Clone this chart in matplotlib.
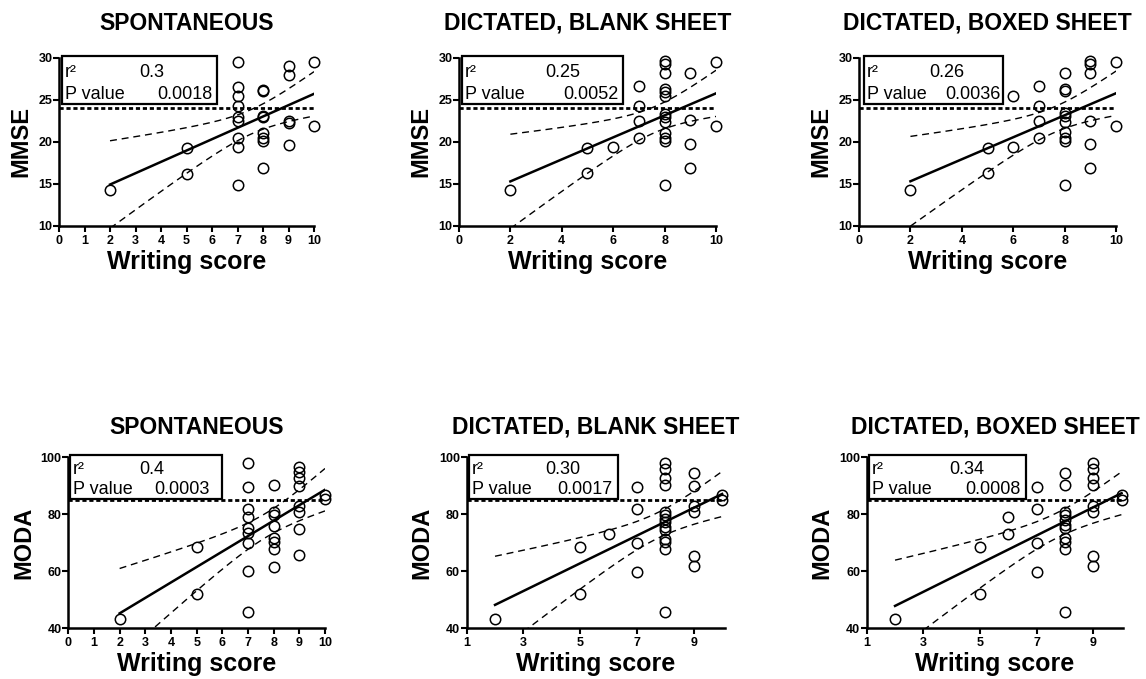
import numpy as np
import matplotlib
matplotlib.use("Agg")
import matplotlib.pyplot as plt
from matplotlib.patches import Rectangle

plt.rcParams['font.family'] = ['Liberation Sans', 'DejaVu Sans']

# ---- data ----
titles = ["SPONTANEOUS", "DICTATED, BLANK SHEET", "DICTATED, BOXED SHEET"]
r2_text = ["0.3", "0.25", "0.26", "0.4", "0.30", "0.34"]
p_text = ["0.0018", "0.0052", "0.0036", "0.0003", "0.0017", "0.0008"]
mmse_cutoff = 24
moda_cutoff = 85

# MMSE vs writing score
spont_mmse_x = [2, 5, 5, 7, 7, 7, 7, 7, 7, 7, 7, 7, 8, 8, 8, 8, 8, 8, 8, 8,
                9, 9, 9, 9, 9, 10, 10]
spont_mmse_y = [14.2, 19.3, 16.2, 29.5, 26.5, 25.5, 24.2, 23.0, 22.5, 20.4, 19.4, 14.8,
                26.2, 26.0, 23.1, 22.9, 21.0, 20.4, 20.1, 16.9,
                29.0, 28.0, 22.5, 22.2, 19.6, 29.5, 21.9]

blank_mmse_x = [2, 5, 5, 6, 7, 7, 7, 7, 8, 8, 8, 8, 8, 8, 8, 8, 8, 8, 8, 8, 8,
                9, 9, 9, 9, 10, 10]
blank_mmse_y = [14.2, 19.3, 16.3, 19.4, 26.6, 24.3, 22.5, 20.4,
                29.6, 29.2, 28.2, 26.3, 25.9, 25.5, 23.3, 23.0, 22.3, 21.0, 20.5, 20.1, 14.9,
                28.2, 22.6, 19.7, 16.9, 29.5, 21.9]

boxed_mmse_x = [2, 5, 5, 6, 6, 7, 7, 7, 7, 8, 8, 8, 8, 8, 8, 8, 8, 8, 8,
                9, 9, 9, 9, 9, 9, 10, 10]
boxed_mmse_y = [14.2, 19.3, 16.3, 25.5, 19.4, 26.6, 24.3, 22.5, 20.4,
                28.2, 26.3, 26.0, 23.4, 23.1, 22.4, 21.1, 20.5, 20.1, 14.9,
                29.6, 29.2, 28.2, 22.5, 19.7, 16.9, 29.5, 21.9]

# MODA vs writing score
spont_moda_x = [2, 5, 5, 7, 7, 7, 7, 7, 7, 7, 7, 7, 8, 8, 8, 8, 8, 8, 8, 8,
                9, 9, 9, 9, 9, 9, 9, 9, 10, 10]
spont_moda_y = [43.2, 68.6, 52.0, 98.0, 89.5, 81.8, 79.0, 75.2, 73.5, 70.0, 60.0, 45.6,
                90.3, 80.8, 79.8, 76.0, 71.6, 70.4, 67.7, 61.6,
                96.5, 94.7, 92.9, 90.0, 82.8, 80.7, 74.8, 65.6, 86.8, 85.2]

blank_moda_x = [2, 5, 5, 6, 7, 7, 7, 7, 8, 8, 8, 8, 8, 8, 8, 8, 8, 8, 8, 8, 8, 8,
                9, 9, 9, 9, 9, 9, 10, 10]
blank_moda_y = [43.2, 68.6, 52.0, 73.1, 89.5, 81.8, 69.8, 59.9,
                98.0, 96.0, 92.7, 90.3, 80.8, 79.8, 78.4, 77.2, 75.6, 74.4, 71.4, 70.3, 67.8, 45.6,
                94.4, 90.0, 82.8, 80.7, 65.5, 61.7, 86.8, 85.0]

boxed_moda_x = [2, 5, 5, 6, 6, 7, 7, 7, 7, 8, 8, 8, 8, 8, 8, 8, 8, 8, 8, 8,
                9, 9, 9, 9, 9, 9, 9, 9, 10, 10]
boxed_moda_y = [43.2, 68.6, 52.0, 78.9, 73.1, 89.5, 81.8, 69.8, 59.9,
                94.4, 90.3, 80.8, 79.8, 78.0, 76.2, 75.1, 71.6, 70.2, 67.8, 45.6,
                98.0, 96.0, 92.7, 90.2, 82.8, 80.8, 65.5, 61.7, 86.8, 85.0]

T_CRIT = 2.05  # ~95% two sided, df 25-28

fig = plt.figure(figsize=(11.46, 6.79), dpi=100)

panels = [
    # rect, x, y, xlim, xticks, ylim, yticks, ylabel, cutoff, box, r2 pos, p pos, title pad
    ([0.0515, 0.6676, 0.2225, 0.2474], spont_mmse_x, spont_mmse_y, (0, 10), range(0, 11),
     (10, 30), [10, 15, 20, 25, 30], "MMSE", mmse_cutoff, (0.012, 0.724, 0.608, 0.288), 0.365, 0.600, 20),
    ([0.4005, 0.6676, 0.2243, 0.2474], blank_mmse_x, blank_mmse_y, (0, 10), range(0, 11, 2),
     (10, 30), [10, 15, 20, 25, 30], "MMSE", mmse_cutoff, (0.012, 0.724, 0.626, 0.288), 0.405, 0.619, 20),
    ([0.7496, 0.6676, 0.2243, 0.2474], boxed_mmse_x, boxed_mmse_y, (0, 10), range(0, 11, 2),
     (10, 30), [10, 15, 20, 25, 30], "MMSE", mmse_cutoff, (0.019, 0.724, 0.541, 0.288), 0.342, 0.551, 20),
    ([0.0596, 0.0747, 0.2240, 0.2518], spont_moda_x, spont_moda_y, (0, 10), range(0, 11),
     (40, 100), [40, 60, 80, 100], "MODA", moda_cutoff, (0.007, 0.758, 0.591, 0.255), 0.326, 0.552, 17),
    ([0.4072, 0.0747, 0.2254, 0.2518], blank_moda_x, blank_moda_y, (1, 10.1), range(1, 10, 2),
     (40, 100), [40, 60, 80, 100], "MODA", moda_cutoff, (0.009, 0.758, 0.577, 0.255), 0.373, 0.566, 17),
    ([0.7563, 0.0747, 0.2239, 0.2518], boxed_moda_x, boxed_moda_y, (1, 10.06), range(1, 10, 2),
     (40, 100), [40, 60, 80, 100], "MODA", moda_cutoff, (0.009, 0.758, 0.612, 0.255), 0.390, 0.600, 17),
]

for i, (rect, xs, ys, xlim, xt, ylim, yt, ylab, cut, box, r2x, px, tpad) in enumerate(panels):
    ax = fig.add_axes(rect)
    x = np.asarray(xs, float)
    y = np.asarray(ys, float)

    # linear regression with 95% confidence band
    n = len(x)
    slope, icpt = np.polyfit(x, y, 1)
    xx = np.linspace(x.min(), x.max(), 200)
    yfit = icpt + slope * xx
    s = np.sqrt(np.sum((y - (icpt + slope * x)) ** 2) / (n - 2))
    sxx = np.sum((x - x.mean()) ** 2)
    half = T_CRIT * s * np.sqrt(1.0 / n + (xx - x.mean()) ** 2 / sxx)

    ax.plot(xx, yfit, color='black', lw=1.8, zorder=3)
    ax.plot(xx, yfit + half, color='black', lw=1.0, ls=(0, (5, 3.5)), zorder=3)
    ax.plot(xx, yfit - half, color='black', lw=1.0, ls=(0, (5, 3.5)), zorder=3)
    ax.axhline(cut, color='black', lw=2.0, ls=(0, (1.5, 1)), zorder=2)
    ax.plot(x, y, 'o', ms=7.5, mfc='none', mec='black', mew=1.1, clip_on=False, zorder=4)

    ax.set_xlim(*xlim)
    ax.set_ylim(*ylim)
    ax.set_xticks(list(xt))
    ax.set_yticks(yt)
    for sp in ['top', 'right']:
        ax.spines[sp].set_visible(False)
    for sp in ['left', 'bottom']:
        ax.spines[sp].set_linewidth(1.8)
    ax.tick_params(axis='x', direction='out', length=4, width=1.5, pad=2.5, labelsize=9)
    ax.tick_params(axis='y', direction='out', length=4, width=1.5, pad=0.8, labelsize=9)
    for lab in ax.get_xticklabels() + ax.get_yticklabels():
        lab.set_fontweight('bold')

    ax.set_xlabel("Writing score", fontsize=18, fontweight='bold', labelpad=2)
    ax.set_ylabel(ylab, fontsize=17, fontweight='bold', labelpad=4)
    ax.set_title(titles[i % 3], fontsize=16.5, fontweight='bold', pad=tpad)

    # r2 / P value box
    bx, by, bw, bh = box
    ax.add_patch(Rectangle((bx, by), bw, bh, transform=ax.transAxes, facecolor='white',
                           edgecolor='black', lw=1.6, clip_on=False, zorder=5))
    row1 = by + bh * 0.57
    row2 = by + bh * 0.10
    lx = bx + 0.012
    ax.text(lx, row1, "r²", transform=ax.transAxes, fontsize=13, zorder=6)
    ax.text(r2x, row1, r2_text[i], transform=ax.transAxes, fontsize=13, ha='center', zorder=6)
    ax.text(lx, row2, "P value", transform=ax.transAxes, fontsize=13, zorder=6)
    ax.text(px, row2, p_text[i], transform=ax.transAxes, fontsize=13, ha='right', zorder=6)

fig.savefig("out.png", dpi=100)
